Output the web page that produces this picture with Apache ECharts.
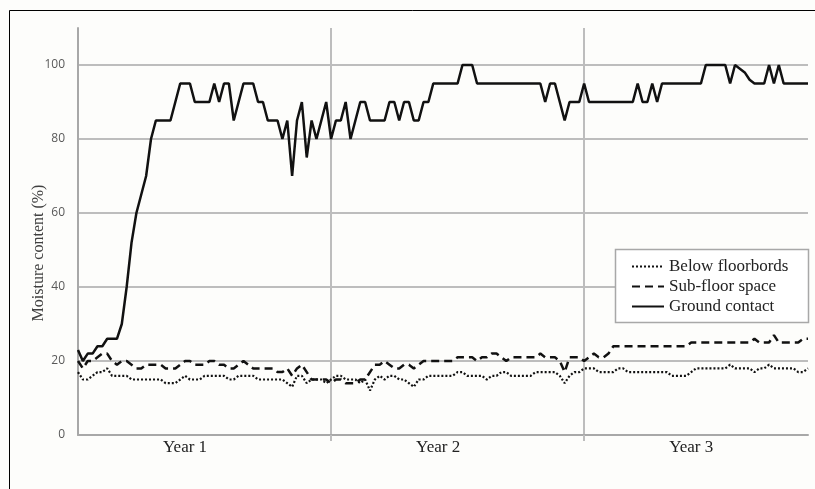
<!DOCTYPE html>
<html><head><meta charset="utf-8">
<script src="https://cdn.jsdelivr.net/npm/echarts@6/dist/echarts.min.js"></script>
<style>html,body{margin:0;padding:0;background:#fdfdfb}#c{width:815px;height:489px}</style>
</head><body><div id="c"></div>
<script>
// ---- data (weekly readings, 52 per year) ----
const seriesNames = ['Below floorbords', 'Sub-floor space', 'Ground contact'];
const yearLabels = ['Year 1', 'Year 2', 'Year 3'];
const yTickLabels = [0, 20, 40, 60, 80, 100];

const groundContact = [
  23,20,22,22,24,24,26,26,26,30,
  40,52,60,65,70,80,85,85,85,85,
  90,95,95,95,90,90,90,90,95,90,
  95,95,85,90,95,95,95,90,90,85,
  85,85,80,85,70,85,90,75,85,80,
  85,90,80,85,85,90,80,85,90,90,
  85,85,85,85,90,90,85,90,90,85,
  85,90,90,95,95,95,95,95,95,100,
  100,100,95,95,95,95,95,95,95,95,
  95,95,95,95,95,95,90,95,95,90,
  85,90,90,90,95,90,90,90,90,90,
  90,90,90,90,90,95,90,90,95,90,
  95,95,95,95,95,95,95,95,95,100,
  100,100,100,100,95,100,99,98,96,95,
  95,95,100,95,100,95,95,95,95,95,95
];
const subFloor = [
  20,18,20,20,21,22,22,20,19,20,
  20,19,18,18,19,19,19,19,18,18,
  18,19,20,20,19,19,19,20,20,19,
  19,18,18,19,20,19,18,18,18,18,
  18,17,17,18,16,18,19,17,15,15,
  15,15,14,15,15,14,14,14,15,15,
  17,19,19,20,19,18,18,19,19,18,
  19,20,20,20,20,20,20,20,21,21,
  21,21,20,21,21,22,22,21,20,21,
  21,21,21,21,21,22,21,21,21,20,
  17,21,21,21,20,21,22,21,21,22,
  24,24,24,24,24,24,24,24,24,24,
  24,24,24,24,24,24,25,25,25,25,
  25,25,25,25,25,25,25,25,25,26,
  25,25,25,27,25,25,25,25,25,26,26
];
const belowFloor = [
  17,15,15,16,17,17,18,16,16,16,
  16,15,15,15,15,15,15,15,14,14,
  14,15,16,15,15,15,16,16,16,16,
  16,15,15,16,16,16,16,15,15,15,
  15,15,15,14,13,16,16,14,15,15,
  15,14,15,16,16,15,15,15,14,15,
  12,15,16,15,16,16,15,15,14,13,
  15,15,16,16,16,16,16,16,17,17,
  16,16,16,16,15,16,16,17,17,16,
  16,16,16,16,17,17,17,17,17,16,
  14,16,17,17,18,18,18,17,17,17,
  17,18,18,17,17,17,17,17,17,17,
  17,17,16,16,16,16,17,18,18,18,
  18,18,18,18,19,18,18,18,18,17,
  18,18,19,18,18,18,18,18,17,17,18
];
const weeks = groundContact.map((_, i) => 'W' + (i + 1));
const WEEKS_PER_YEAR = 52;
const LABEL_OFFSET = 22;

const chart = echarts.init(document.getElementById('c'), null, {renderer: 'canvas'});
const ink = '#111111';
chart.setOption({
  backgroundColor: '#fdfdfb',
  animation: false,
  grid: {left: 78, right: 7, top: 28, bottom: 54, containLabel: false},
  xAxis: {
    type: 'category', data: weeks, boundaryGap: false,
    axisLine: {show: true, lineStyle: {color: '#a8a8a8', width: 2}},
    axisTick: {show: true, interval: (i) => i > 0 && i % WEEKS_PER_YEAR === 0, length: 6, lineStyle: {color: '#bdbdbd', width: 2}},
    axisLabel: {
      interval: (i) => i >= LABEL_OFFSET && (i - LABEL_OFFSET) % WEEKS_PER_YEAR === 0,
      formatter: (v, i) => yearLabels[Math.floor(i / WEEKS_PER_YEAR)] || '',
      margin: 4, color: '#222', fontFamily: 'Liberation Serif', fontSize: 17
    },
    splitLine: {show: true, interval: (i) => i > 0 && i % WEEKS_PER_YEAR === 0, lineStyle: {color: '#bdbdbd', width: 2}}
  },
  yAxis: {
    type: 'value', min: 0, max: 110, interval: 20,
    axisLine: {show: true, lineStyle: {color: '#a8a8a8', width: 2}},
    axisTick: {show: false},
    axisLabel: {
      margin: 13, color: '#595959', fontFamily: 'Open Sans', fontSize: 12,
      showMaxLabel: false,
      formatter: (v) => yTickLabels.indexOf(v) >= 0 ? String(v) : ''
    },
    splitLine: {show: true, showMaxLine: false, lineStyle: {color: '#bdbdbd', width: 2}}
  },
  legend: {
    orient: 'vertical', left: 631, top: 258, padding: 0,
    itemWidth: 32, itemHeight: 12, itemGap: 3,
    data: seriesNames, z: 10,
    itemStyle: {opacity: 0},
    textStyle: {fontFamily: 'Liberation Serif', fontSize: 17, color: '#222', lineHeight: 16}
  },
  graphic: [
    {type: 'rect', silent: true, z: 1, shape: {x: 9.5, y: 10.5, width: 1000, height: 1000}, style: {fill: 'none', stroke: '#000', lineWidth: 1}},
    {type: 'rect', silent: true, z: 8, shape: {x: 615.5, y: 249.5, width: 193, height: 73}, style: {fill: '#ffffff', stroke: '#a8a8a8', lineWidth: 1.5}},
    {type: 'text', silent: true, z: 8, x: 39, y: 253, rotation: Math.PI / 2,
     style: {text: 'Moisture content (%)', font: '16px "Liberation Serif"', fill: '#404040', textAlign: 'center', textVerticalAlign: 'middle'}}
  ],
  series: [
    {name: seriesNames[0], type: 'line', data: belowFloor, symbol: 'none', showSymbol: false,
     lineStyle: {color: ink, width: 2.2, type: [2, 2]}, itemStyle: {color: ink}, z: 3},
    {name: seriesNames[1], type: 'line', data: subFloor, symbol: 'none', showSymbol: false,
     lineStyle: {color: ink, width: 2.5, type: [8, 5]}, itemStyle: {color: ink}, z: 3},
    {name: seriesNames[2], type: 'line', data: groundContact, symbol: 'none', showSymbol: false,
     lineStyle: {color: ink, width: 2.5, type: 'solid'}, itemStyle: {color: ink}, z: 4}
  ]
});
</script></body></html>
